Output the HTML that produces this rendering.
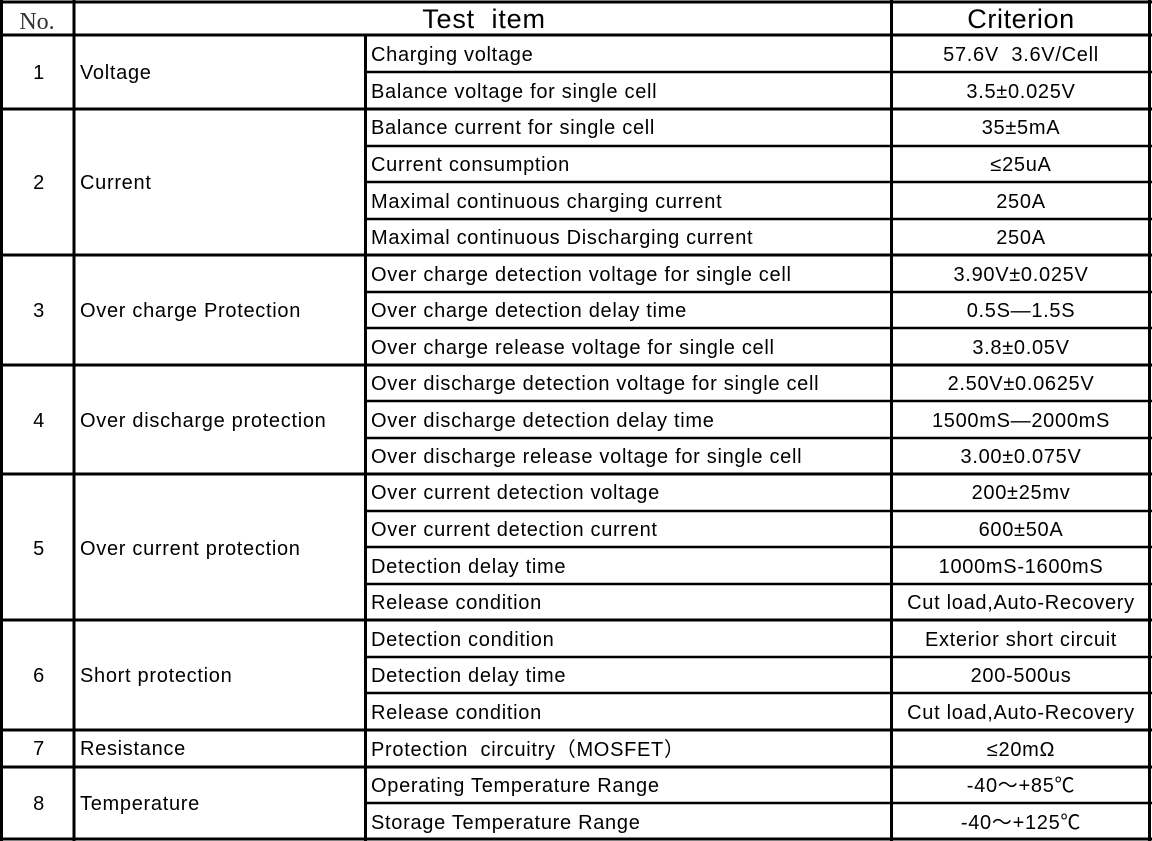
<!DOCTYPE html>
<html><head><meta charset="utf-8"><style>
html,body{margin:0;padding:0;background:#fff;}
svg{display:block;}
text{font-family:"Liberation Sans","Noto Sans CJK SC",sans-serif;font-size:20px;letter-spacing:0.7px;fill:#000;}
</style></head><body>
<svg width="1152" height="841" viewBox="0 0 1152 841">
<g stroke="#000" stroke-width="3">
<line x1="1.5" y1="0" x2="1.5" y2="841"/>
<line x1="1149.5" y1="0" x2="1149.5" y2="841"/>
<line x1="74" y1="0" x2="74" y2="841"/>
<line x1="891.5" y1="0" x2="891.5" y2="841"/>
<line x1="365.5" y1="35" x2="365.5" y2="841"/>
<line x1="0" y1="2" x2="1152" y2="2"/>
<line x1="0" y1="839" x2="1152" y2="839"/>
<line x1="0" y1="35" x2="1152" y2="35"/>
<line x1="0" y1="109" x2="1152" y2="109"/>
<line x1="0" y1="255" x2="1152" y2="255"/>
<line x1="0" y1="365" x2="1152" y2="365"/>
<line x1="0" y1="474" x2="1152" y2="474"/>
<line x1="0" y1="620" x2="1152" y2="620"/>
<line x1="0" y1="730" x2="1152" y2="730"/>
<line x1="0" y1="767" x2="1152" y2="767"/>
</g>
<g stroke="#000" stroke-width="2.5">
<line x1="365" y1="72" x2="1152" y2="72"/>
<line x1="365" y1="146" x2="1152" y2="146"/>
<line x1="365" y1="182" x2="1152" y2="182"/>
<line x1="365" y1="219" x2="1152" y2="219"/>
<line x1="365" y1="292" x2="1152" y2="292"/>
<line x1="365" y1="328" x2="1152" y2="328"/>
<line x1="365" y1="401" x2="1152" y2="401"/>
<line x1="365" y1="438" x2="1152" y2="438"/>
<line x1="365" y1="511" x2="1152" y2="511"/>
<line x1="365" y1="547" x2="1152" y2="547"/>
<line x1="365" y1="584" x2="1152" y2="584"/>
<line x1="365" y1="657" x2="1152" y2="657"/>
<line x1="365" y1="693" x2="1152" y2="693"/>
<line x1="365" y1="803" x2="1152" y2="803"/>
</g>
<text x="37" y="29" text-anchor="middle" style="font-family:'Liberation Serif',serif;font-size:24px;letter-spacing:0;fill:#333">No.</text>
<text x="484" y="28" text-anchor="middle" style="font-size:27px;letter-spacing:0.8px" xml:space="preserve">Test  item</text>
<text x="1021" y="28" text-anchor="middle" style="font-size:27px;letter-spacing:0.6px">Criterion</text>
<g text-anchor="middle">
<text x="39" y="79">1</text><text x="39" y="189">2</text><text x="39" y="317">3</text><text x="39" y="427">4</text><text x="39" y="555">5</text><text x="39" y="682">6</text><text x="39" y="755">7</text><text x="39" y="810">8</text>
</g>
<g>
<text x="80" y="79">Voltage</text><text x="80" y="189">Current</text><text x="80" y="317">Over charge Protection</text><text x="80" y="427">Over discharge protection</text><text x="80" y="555">Over current protection</text><text x="80" y="682">Short protection</text><text x="80" y="755">Resistance</text><text x="80" y="810">Temperature</text>
</g>
<g>
<text x="371" y="61">Charging voltage</text>
<text x="371" y="98">Balance voltage for single cell</text>
<text x="371" y="134">Balance current for single cell</text>
<text x="371" y="171">Current consumption</text>
<text x="371" y="208">Maximal continuous charging current</text>
<text x="371" y="244">Maximal continuous Discharging current</text>
<text x="371" y="281">Over charge detection voltage for single cell</text>
<text x="371" y="317">Over charge detection delay time</text>
<text x="371" y="354">Over charge release voltage for single cell</text>
<text x="371" y="390">Over discharge detection voltage for single cell</text>
<text x="371" y="427">Over discharge detection delay time</text>
<text x="371" y="463">Over discharge release voltage for single cell</text>
<text x="371" y="499">Over current detection voltage</text>
<text x="371" y="536">Over current detection current</text>
<text x="371" y="573">Detection delay time</text>
<text x="371" y="609">Release condition</text>
<text x="371" y="646">Detection condition</text>
<text x="371" y="682">Detection delay time</text>
<text x="371" y="719">Release condition</text>
<text x="371" y="756" xml:space="preserve">Protection  circuitry（MOSFET）</text>
<text x="371" y="792">Operating Temperature Range</text>
<text x="371" y="829">Storage Temperature Range</text>
</g>
<g text-anchor="middle">
<text x="1021" y="61" xml:space="preserve">57.6V  3.6V/Cell</text>
<text x="1021" y="98">3.5±0.025V</text>
<text x="1021" y="134">35±5mA</text>
<text x="1021" y="171">≤25uA</text>
<text x="1021" y="208">250A</text>
<text x="1021" y="244">250A</text>
<text x="1021" y="281">3.90V±0.025V</text>
<text x="1021" y="317">0.5S—1.5S</text>
<text x="1021" y="354">3.8±0.05V</text>
<text x="1021" y="390">2.50V±0.0625V</text>
<text x="1021" y="427">1500mS—2000mS</text>
<text x="1021" y="463">3.00±0.075V</text>
<text x="1021" y="499">200±25mv</text>
<text x="1021" y="536">600±50A</text>
<text x="1021" y="573">1000mS-1600mS</text>
<text x="1021" y="609">Cut load,Auto-Recovery</text>
<text x="1021" y="646">Exterior short circuit</text>
<text x="1021" y="682">200-500us</text>
<text x="1021" y="719">Cut load,Auto-Recovery</text>
<text x="1021" y="756">≤20mΩ</text>
<text x="1021" y="792">-40～+85℃</text>
<text x="1021" y="829">-40～+125℃</text>
</g>
</svg>
</body></html>
